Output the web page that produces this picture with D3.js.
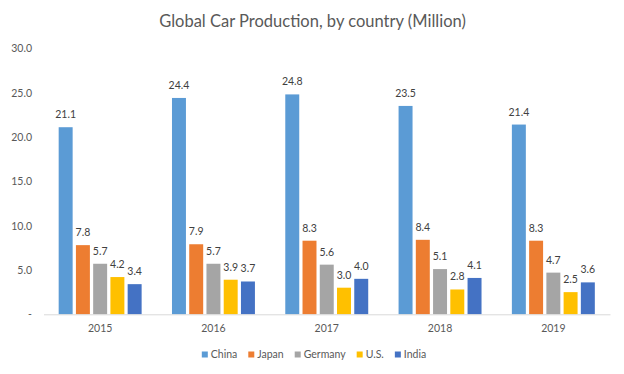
<!DOCTYPE html>
<html>
<head>
<meta charset="utf-8">
<script src="https://cdn.jsdelivr.net/npm/d3@7"></script>
<style>
    body { margin: 0; background: #fff; }
    text { font-family: Lato, "Open Sans", sans-serif; }
</style>
</head>
<body>
<script>
'use strict';

const years = ["2015", "2016", "2017", "2018", "2019"];
const countries = ["China", "Japan", "Germany", "U.S.", "India"];
const china = [21.1, 24.4, 24.8, 23.5, 21.4];
const japan = [7.8, 7.9, 8.3, 8.4, 8.3];
const germany = [5.7, 5.7, 5.6, 5.1, 4.7];
const us = [4.2, 3.9, 3.0, 2.8, 2.5];
const india = [3.4, 3.7, 4.0, 4.1, 3.6];
const yTicks = [0, 5, 10, 15, 20, 25, 30];
const colors = ["#5B9BD5", "#ED7D31", "#A5A5A5", "#FFC000", "#4472C4"];

(function() {
    const series = [china, japan, germany, us, india];
    const width = 624, height = 374;
    const plot = { left: 43.5, right: 610, top: 48.3, bottom: 314.3 };

    const svg = d3.select("body").append("svg")
        .attr("width", width)
        .attr("height", height);

    // flatten into rows the scales can use
    let rows = [];
    years.forEach(function(y, i) {
        countries.forEach(function(c, j) {
            rows.push({ year: y, country: c, value: series[j][i], color: colors[j] });
        });
    });

    const x0 = d3.scaleBand()
        .domain(years)
        .range([plot.left, plot.right]);

    const x1 = d3.scaleBand()
        .domain(countries)
        .range([0, x0.bandwidth()])
        .paddingInner(0.19)
        .paddingOuter(0.88);

    const y = d3.scaleLinear()
        .domain([0, 30])
        .range([plot.bottom, plot.top]);

    // title
    svg.append("text")
        .attr("x", 312.5)
        .attr("y", 27)
        .attr("text-anchor", "middle")
        .attr("font-size", "16.5px")
        .attr("fill", "#595959")
        .text("Global Car Production, by country (Million)");

    // y axis labels
    const yAxis = d3.axisLeft(y)
        .tickValues(yTicks)
        .tickSize(0)
        .tickPadding(0)
        .tickFormat(function(d) { return d === 0 ? "-" : d3.format(".1f")(d); });

    const yg = svg.append("g")
        .attr("transform", "translate(32,0)")
        .call(yAxis);
    yg.select(".domain").remove();
    yg.selectAll("text")
        .attr("font-family", "Lato, sans-serif")
        .attr("font-size", "10.5px")
        .attr("fill", "#595959");

    // bars
    svg.append("g").selectAll("rect")
        .data(rows)
        .enter()
        .append("rect")
        .attr("x", function(d) { return x0(d.year) + x1(d.country); })
        .attr("y", function(d) { return y(d.value); })
        .attr("width", x1.bandwidth())
        .attr("height", function(d) { return y(0) - y(d.value); })
        .attr("fill", function(d) { return d.color; });

    // value labels
    svg.append("g").selectAll("text")
        .data(rows)
        .enter()
        .append("text")
        .attr("x", function(d) { return x0(d.year) + x1(d.country) + x1.bandwidth() / 2; })
        .attr("y", function(d) { return y(d.value) - 9; })
        .attr("text-anchor", "middle")
        .attr("font-size", "10.5px")
        .attr("fill", "#404040")
        .text(function(d) { return d3.format(".1f")(d.value); });

    // x axis
    const xAxis = d3.axisBottom(x0)
        .tickSize(0)
        .tickPadding(10);

    const xg = svg.append("g")
        .attr("transform", "translate(0," + plot.bottom + ")")
        .call(xAxis);
    xg.select(".domain")
        .attr("stroke", "#D9D9D9")
        .attr("stroke-width", 1);
    xg.selectAll("text")
        .attr("font-family", "Lato, sans-serif")
        .attr("font-size", "10.5px")
        .attr("fill", "#595959");

    // legend
    const legend = svg.append("g");
    let lx = 0;
    countries.forEach(function(c, j) {
        let item = legend.append("g").attr("transform", "translate(" + lx + ",0)");
        item.append("rect")
            .attr("x", 0)
            .attr("y", -6.5)
            .attr("width", 6)
            .attr("height", 6)
            .attr("fill", colors[j]);
        let t = item.append("text")
            .attr("x", 9)
            .attr("y", 0)
            .attr("font-size", "10.5px")
            .attr("fill", "#595959")
            .text(c);
        lx += 9 + t.node().getComputedTextLength() + 11;
    });
    legend.attr("transform", "translate(" + (314 - (lx - 11) / 2) + ",358)");
})();
</script>
</body>
</html>
